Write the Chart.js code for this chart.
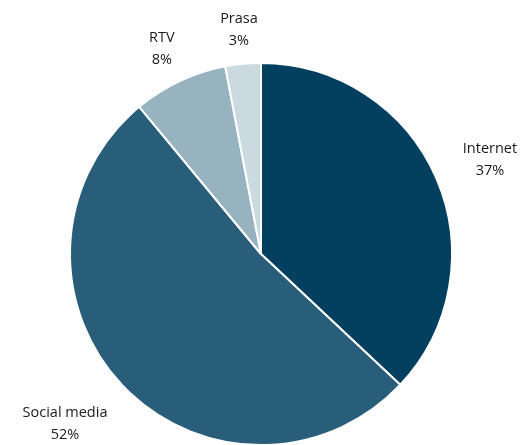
<!DOCTYPE html>
<html>
<head>
<meta charset="utf-8">
<script src="https://cdn.jsdelivr.net/npm/chart.js@4.4.1/dist/chart.umd.min.js"></script>
<style>
  html, body { margin: 0; padding: 0; background: #fff; overflow: hidden; }
  #wrap { position: relative; width: 529px; height: 508px; }
</style>
</head>
<body>
<div id="wrap"><canvas id="pie"></canvas></div>
<script>
// chart data
const categories = ['Internet', 'Social media', 'RTV', 'Prasa'];
const shares = [37, 52, 8, 3];
const sliceColors = ['#033F5F', '#285E7A', '#98B3C0', '#CBD9E0'];

// draws "name\nvalue%" outside each slice
const outsideLabels = {
    id: 'outsideLabels',
    afterDraw(chart) {
        const ctx = chart.ctx;
        const meta = chart.getDatasetMeta(0);
        const lineGap = 22;
        const h = 40;
        ctx.save();
        ctx.font = '14.5px "Open Sans", sans-serif';
        ctx.fillStyle = '#1a1a1a';
        ctx.textAlign = 'center';
        ctx.textBaseline = 'middle';
        meta.data.forEach((arc, i) => {
            const mid = (arc.startAngle + arc.endAngle) / 2;
            const dx = Math.cos(mid);
            const dy = Math.sin(mid);
            const line1 = categories[i];
            const line2 = shares[i] + '%';
            const w = Math.max(ctx.measureText(line1).width, ctx.measureText(line2).width);
            // push the text box out so it clears the pie edge
            const dist = arc.outerRadius + 12 + Math.abs(dx) * w / 2 + Math.abs(dy) * h / 2;
            const cx = arc.x + dx * dist + dx * w / 4;
            const cy = arc.y + dy * dist;
            ctx.fillText(line1, cx, cy - lineGap / 2);
            ctx.fillText(line2, cx, cy + lineGap / 2);
        });
        ctx.restore();
    }
};

new Chart(document.getElementById('pie'), {
    type: 'pie',
    data: {
        labels: categories,
        datasets: [{
            data: shares,
            backgroundColor: sliceColors,
            borderColor: '#ffffff',
            borderWidth: 2
        }]
    },
    options: {
        responsive: true,
        maintainAspectRatio: false,
        animation: false,
        layout: {
            padding: { top: 62, bottom: 62, left: 69, right: 76 }
        },
        plugins: {
            legend: { display: false },
            tooltip: { enabled: false }
        }
    },
    plugins: [outsideLabels]
});
</script>
</body>
</html>
